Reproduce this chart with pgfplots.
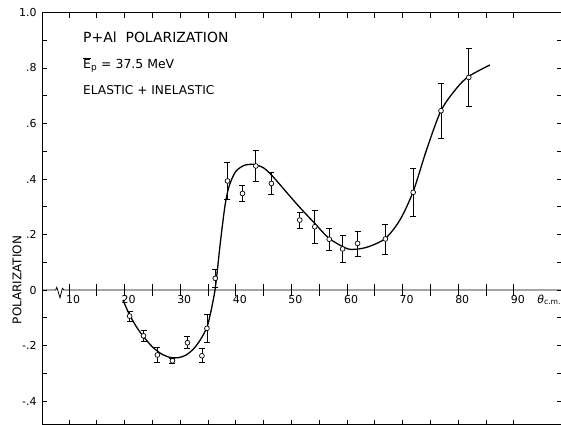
\documentclass[border=0pt]{standalone}
\usepackage{fontspec}
\setmainfont{DejaVu Sans}
\usepackage{pgfplots}
\pgfplotsset{compat=1.18}
\usepackage{pgfplotstable}

\pgfplotstableread{
x     y       e
20.9  -0.094  0.018
23.4  -0.165  0.020
25.9  -0.234  0.028
28.6  -0.255  0.010
31.3  -0.190  0.022
33.9  -0.237  0.025
34.8  -0.138  0.049
36.3   0.042  0.033
38.5   0.393  0.066
41.2   0.348  0.030
43.6   0.447  0.055
46.4   0.384  0.040
51.5   0.252  0.028
54.2   0.228  0.060
56.8   0.183  0.039
59.2   0.148  0.048
61.9   0.168  0.045
66.9   0.184  0.054
71.9   0.352  0.085
76.9   0.646  0.100
81.9   0.766  0.105
}\pol

\begin{document}
\begin{tikzpicture}
\begin{axis}[
  x=5.56bp, y=277.5bp,
  xmin=5.14, xmax=98.6, ymin=-0.485, ymax=1.0,
  clip=false,
  axis line style={line width=0.8bp},
  tick style={line width=0.7bp, black},
  tick align=inside,
  major tick length=5bp, minor tick length=5bp,
  xtick={10,15,...,90}, xticklabels={},
  xtick pos=both,
  ytick={-0.4,-0.2,0,0.2,0.4,0.6,0.8,1.0},
  yticklabels={-.4,-.2,0,.2,.4,.6,.8,1.0},
  minor ytick={-0.3,-0.1,0.1,0.3,0.5,0.7,0.9},
  ytick pos=both, yticklabel pos=left,
  yticklabel style={font=\fontsize{11}{12}\selectfont, xshift=-2bp},
]
\pgfplotsinvokeforeach{10,15,...,90}{
  \draw[line width=0.7bp] (axis cs:#1,-0.022) -- (axis cs:#1,0.022);
}
\pgfplotsinvokeforeach{10,20,...,90}{
  \node[anchor=north, inner sep=0pt, xshift=4bp, yshift=-5bp, font=\fontsize{11}{12}\selectfont] at (axis cs:#1,0) {#1};
}
\draw[line width=0.8bp] (axis cs:5.14,0) -- (axis cs:7.6,0) -- (axis cs:7.8,0.01) -- (axis cs:8.38,-0.028) -- (axis cs:8.8,0.006) -- (axis cs:9.1,0) -- (axis cs:98.6,0);

\addplot[smooth, line width=1.3bp, black] coordinates {
(19.7,-0.036)(20.9,-0.09)(22.2,-0.135)(23.4,-0.168)(25.0,-0.205)(26.6,-0.23)(28.2,-0.243)
(29.6,-0.244)(31.0,-0.235)(32.4,-0.212)(33.6,-0.18)(34.8,-0.135)(35.4,-0.088)(35.9,-0.04)(36.3,0.006)
(36.7,0.075)(37.1,0.15)(37.6,0.235)(38.1,0.31)(38.7,0.368)(39.5,0.41)(40.2,0.432)
(41.5,0.449)(43.1,0.453)(45,0.44)(46.7,0.408)(49,0.355)(51.4,0.30)
(54.2,0.24)(56.8,0.186)(59.9,0.150)(61.7,0.147)(64,0.157)(66.9,0.186)
(69.5,0.252)(71.9,0.355)(74.3,0.505)(76.9,0.646)(79.7,0.727)(81.9,0.77)(85.7,0.811)
};

\addplot[only marks, mark=*, mark size=2.4bp, mark options={fill=white, draw=black, line width=0.7bp},
  error bars/.cd, y dir=both, y explicit,
  error bar style={line width=0.7bp, black},
  error mark options={rotate=90, mark size=3bp, line width=0.7bp, black}]
  table[x=x, y=y, y error=e] {\pol};

\node[anchor=west, inner sep=0pt, font=\fontsize{14}{15}\selectfont] at (axis cs:12.52,0.912) {P+Al\ \ POLARIZATION};
\node[anchor=west, inner sep=0pt, font=\fontsize{12.5}{13}\selectfont] at (axis cs:12.52,0.811) {$\overline{\hbox{E}}_{\hbox{\fontsize{9}{10}\selectfont p}}$ = 37.5 MeV};
\node[anchor=west, inner sep=0pt, font=\fontsize{12.2}{13}\selectfont] at (axis cs:12.52,0.721) {ELASTIC + INELASTIC};
\node[anchor=west, inner sep=0pt, font=\fontsize{11}{12}\selectfont] at (axis cs:94.2,-0.036) {\textit{θ}\textsubscript{c.m.}};
\node[rotate=90, inner sep=0pt, font=\fontsize{12}{13}\selectfont] at (axis cs:0.65,0.036) {POLARIZATION};
\end{axis}
\pgfresetboundingbox
\path[use as bounding box] (-42bp,-0.4bp) rectangle (519bp,424.6bp);
\end{tikzpicture}
\end{document}
